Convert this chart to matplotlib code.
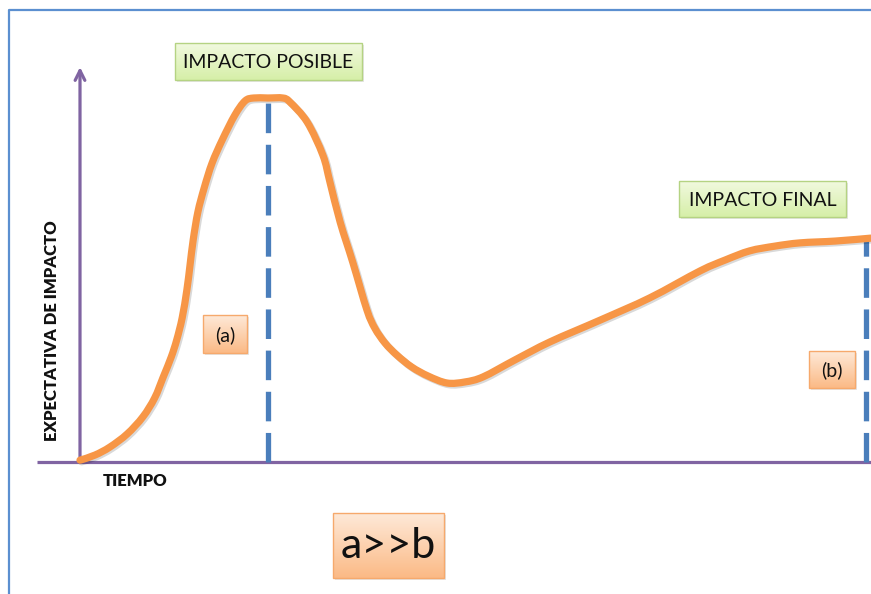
import numpy as np
import matplotlib
matplotlib.use("Agg")
import matplotlib.pyplot as plt
import matplotlib.patheffects as pe
from matplotlib.patches import Rectangle, PathPatch
from matplotlib.path import Path
from matplotlib.colors import to_rgb

# expectation curve, time 0..100 (final point), impact 0..100 (peak)
tiempo = [0, 1.9, 3.8, 6.0, 8.0, 9.5, 10.6, 11.6, 12.3, 13.0, 13.6, 14.0,
          14.4, 15.0, 15.8, 16.8, 18.1, 19.7, 21.0, 22.1, 23.9, 25.8, 26.7,
          28.9, 30.9, 31.8, 33.1, 34.7, 36.5, 37.5, 38.8, 40.3, 42.2, 44.3,
          46.7, 49.0, 51.3, 55.3, 59.8, 66.2, 72.5, 78.9, 82.1, 85.2, 88.4,
          91.6, 96.1, 100.6]
impacto = [0.5, 1.9, 4.1, 7.7, 12.4, 17.6, 23.4, 28.8, 33.5, 39.6, 47.3, 54.1,
           61.0, 68.7, 75.3, 82.1, 88.5, 95.3, 99.2, 100, 100, 100, 98.9,
           93.4, 84.3, 76.9, 65.9, 54.9, 41.8, 36.8, 32.7, 29.4, 26.1, 23.6,
           21.7, 22.0, 23.4, 28.0, 33.0, 39.0, 45.1, 52.5, 55.5, 58.0, 59.3,
           60.2, 60.7, 61.5]

# markers: (time, level) of impacto posible (a) and impacto final (b)
marca_t = [23.9, 100.0]
marca_v = [99.5, 61.0]

etiquetas = ["IMPACTO POSIBLE", "IMPACTO FINAL", "(a)", "(b)", "a>>b"]

W, H = 871, 594
fig = plt.figure(figsize=(W / 100, H / 100), dpi=100)

ax = fig.add_axes([0, 0, 1, 1])
ax.set_xlim(-80 / 7.86, (W - 80) / 7.86)
ax.set_ylim(-(H - 462) / 3.64, 462 / 3.64)
ax.axis("off")

purple = "#8064A2"
orange = "#F79646"
blue = "#4A7EBB"

# axes lines
ax.plot([-5.5, 101], [0, 0], color=purple, lw=2.3, solid_capstyle="butt", zorder=2)
ax.annotate("", xy=(0, 108.5), xytext=(0, 0),
            arrowprops=dict(arrowstyle="->,head_length=0.7,head_width=0.35",
                            color=purple, lw=2.3, shrinkA=0, shrinkB=0), zorder=2)

# dashed verticals
for t, v in zip(marca_t, marca_v):
    ax.plot([t, t], [0, v], color=blue, lw=3.8, dashes=(5.6, 2.2),
            solid_capstyle="butt", dash_capstyle="butt", zorder=3)

# curve as a smooth bezier path through the read points (catmull-rom)
P = np.column_stack([tiempo, impacto])
Q = np.vstack([P[0], P, P[-1]])
verts = [P[0]]
codes = [Path.MOVETO]
for i in range(1, len(Q) - 2):
    p0, p1, p2, p3 = Q[i - 1], Q[i], Q[i + 1], Q[i + 2]
    verts += [p1 + (p2 - p0) / 6, p2 - (p3 - p1) / 6, p2]
    codes += [Path.CURVE4] * 3
curva = PathPatch(Path(verts, codes), facecolor="none", edgecolor=orange,
                  lw=5.2, joinstyle="round", capstyle="round", zorder=4,
                  path_effects=[pe.SimpleLineShadow(offset=(1.2, -1.2), alpha=0.15),
                                pe.Normal()])
ax.add_patch(curva)

# overlay in pixel coordinates for frame and boxes
ov = fig.add_axes([0, 0, 1, 1], facecolor="none")
ov.set_xlim(0, W)
ov.set_ylim(H, 0)
ov.axis("off")
ov.set_zorder(5)

ov.plot([9, 9, W + 5], [H + 5, 10, 10], color="#5B8FD0", lw=1.6)


def box(x0, y0, x1, y1, top, bottom, edge, text, size):
    ov.add_patch(Rectangle((x0 + 2, y0 + 2), x1 - x0, y1 - y0,
                           facecolor="#000000", alpha=0.10, lw=0, zorder=1))
    c0, c1 = np.array(to_rgb(top)), np.array(to_rgb(bottom))
    g = np.linspace(0, 1, 64)[:, None, None]
    img = c0 * (1 - g) + c1 * g
    ov.imshow(img, extent=(x0, x1, y1, y0), origin="upper", aspect="auto",
              interpolation="bilinear", zorder=2)
    ov.add_patch(Rectangle((x0, y0), x1 - x0, y1 - y0, facecolor="none",
                           edgecolor=edge, lw=1.0, zorder=3))
    ov.text((x0 + x1) / 2, (y0 + y1) / 2 + 1, text, ha="center", va="center",
            fontsize=size, family="Lato", color="#111111", zorder=4)


verde = ("#F1F9DF", "#D6EFA8", "#B5D383")
naranja = ("#FEE9D8", "#FBBA86", "#F6A96C")
box(175, 43, 362, 80, *verde, etiquetas[0], 14)
box(679, 181, 846, 217, *verde, etiquetas[1], 14)
box(203, 315, 247, 353, *naranja, etiquetas[2], 14)
box(809, 351, 855, 388, *naranja, etiquetas[3], 14)
box(333, 513, 444, 578, *naranja, etiquetas[4], 31)

ov.set_xlim(0, W)
ov.set_ylim(H, 0)

ov.text(52, 331, "EXPECTATIVA DE IMPACTO", rotation=90, ha="center", va="center",
        fontsize=12, family="Lato", fontweight="heavy", color="#111111")
ov.text(135, 481, "TIEMPO", ha="center", va="center", fontsize=12,
        family="Lato", fontweight="heavy", color="#111111")

fig.savefig("out.png", dpi=100)
